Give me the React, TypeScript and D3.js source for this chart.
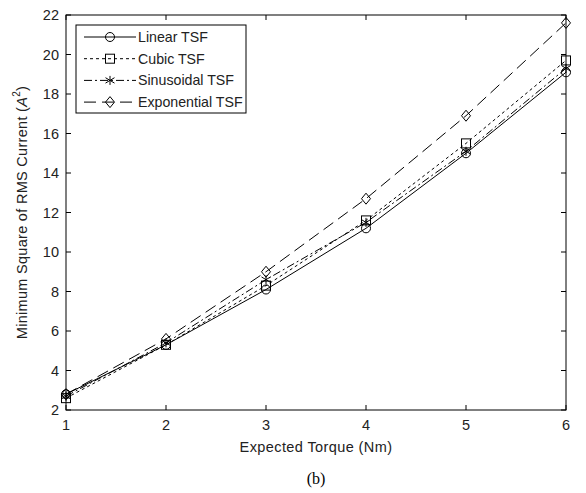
import React, { useEffect, useRef } from "react";
import * as d3 from "d3";

const torque = [1, 2, 3, 4, 5, 6];
const linearTSF = [2.8, 5.3, 8.1, 11.2, 15.0, 19.1];
const cubicTSF = [2.6, 5.3, 8.3, 11.6, 15.5, 19.7];
const sinusoidalTSF = [2.7, 5.4, 8.6, 11.5, 15.1, 19.3];
const exponentialTSF = [2.8, 5.6, 9.0, 12.7, 16.9, 21.6];
const seriesNames = ["Linear TSF", "Cubic TSF", "Sinusoidal TSF", "Exponential TSF"];
const yTicks = [2, 4, 6, 8, 10, 12, 14, 16, 18, 20, 22];
const xTicks = [1, 2, 3, 4, 5, 6];

export default function App() {
  const ref = useRef<SVGSVGElement>(null);
  useEffect(() => {
    const svg = d3.select(ref.current);
    svg.selectAll("*").remove();
    const L = 66, R = 566, T = 15, B = 410;
    const x = d3.scaleLinear().domain([1, 6]).range([L, R]);
    const y = d3.scaleLinear().domain([2, 22]).range([B, T]);
    const font = "Liberation Sans, Arial, sans-serif";
    const fs = 14.5;
    const g = svg.append("g");
    g.append("rect").attr("x", L).attr("y", T).attr("width", R - L).attr("height", B - T)
      .attr("fill", "white").attr("stroke", "#000").attr("stroke-width", 1);
    const tl = 5;
    yTicks.forEach((v) => {
      g.append("line").attr("x1", L).attr("x2", L + tl).attr("y1", y(v)).attr("y2", y(v)).attr("stroke", "#000");
      g.append("line").attr("x1", R).attr("x2", R - tl).attr("y1", y(v)).attr("y2", y(v)).attr("stroke", "#000");
      g.append("text").attr("x", L - 7).attr("y", y(v) + 5).attr("text-anchor", "end")
        .attr("font-family", font).attr("font-size", fs).attr("fill", "#222").text(String(v));
    });
    xTicks.forEach((v) => {
      g.append("line").attr("x1", x(v)).attr("x2", x(v)).attr("y1", B).attr("y2", B - tl).attr("stroke", "#000");
      g.append("line").attr("x1", x(v)).attr("x2", x(v)).attr("y1", T).attr("y2", T + tl).attr("stroke", "#000");
      g.append("text").attr("x", x(v)).attr("y", B + 20).attr("text-anchor", "middle")
        .attr("font-family", font).attr("font-size", fs).attr("fill", "#222").text(String(v));
    });
    g.append("text").attr("x", 316).attr("y", 452).attr("text-anchor", "middle")
      .attr("font-family", font).attr("font-size", fs).attr("letter-spacing", 0.4).attr("fill", "#222").text("Expected Torque (Nm)");
    g.append("text").attr("x", 316).attr("y", 484).attr("text-anchor", "middle")
      .attr("font-family", "Liberation Serif, Times New Roman, serif").attr("font-size", 16).attr("fill", "#000").text("(b)");
    const yl = g.append("text").attr("transform", `translate(27,${(T + B) / 2}) rotate(-90)`)
      .attr("text-anchor", "middle").attr("font-family", font).attr("font-size", fs).attr("letter-spacing", 0.3).attr("fill", "#222");
    yl.append("tspan").text("Minimum Square of RMS Current (");
    yl.append("tspan").attr("font-style", "italic").text("A");
    yl.append("tspan").attr("dy", -7).attr("font-size", 10).text("2");
    yl.append("tspan").attr("dy", 7).text(")");

    const data = [linearTSF, cubicTSF, sinusoidalTSF, exponentialTSF];
    const dashes = [null, "3,3", "8,3,2,3", "12,6"];
    const markers = ["circle", "square", "star", "diamond"];
    const drawMarker = (sel: any, type: string, cx: number, cy: number) => {
      const s = 4.5;
      if (type === "circle") sel.append("circle").attr("cx", cx).attr("cy", cy).attr("r", s).attr("fill", "none").attr("stroke", "#000");
      else if (type === "square") sel.append("rect").attr("x", cx - s).attr("y", cy - s).attr("width", 2 * s).attr("height", 2 * s).attr("fill", "none").attr("stroke", "#000");
      else if (type === "diamond") sel.append("path").attr("d", `M${cx},${cy - s - 1}L${cx + s},${cy}L${cx},${cy + s + 1}L${cx - s},${cy}Z`).attr("fill", "none").attr("stroke", "#000");
      else {
        const path = `M${cx},${cy - s}L${cx},${cy + s}M${cx - s},${cy - s * 0.6}L${cx + s},${cy + s * 0.6}M${cx - s},${cy + s * 0.6}L${cx + s},${cy - s * 0.6}`;
        sel.append("path").attr("d", path).attr("fill", "none").attr("stroke", "#000");
      }
    };
    const line = d3.line<number>().x((_, i) => x(torque[i])).y((d) => y(d));
    data.forEach((arr, k) => {
      const p = g.append("path").attr("d", line(arr)).attr("fill", "none").attr("stroke", "#000").attr("stroke-width", 1);
      if (dashes[k]) p.attr("stroke-dasharray", dashes[k]);
      arr.forEach((v, i) => drawMarker(g, markers[k], x(torque[i]), y(v)));
    });

    // legend
    const lx = 76, ly = 25, lw = 170, lh = 88;
    g.append("rect").attr("x", lx).attr("y", ly).attr("width", lw).attr("height", lh)
      .attr("fill", "white").attr("stroke", "#000");
    seriesNames.forEach((name, k) => {
      const ry = ly + 12 + k * 21.7;
      const p = g.append("line").attr("x1", lx + 8).attr("x2", lx + 60).attr("y1", ry).attr("y2", ry).attr("stroke", "#000");
      if (dashes[k]) p.attr("stroke-dasharray", dashes[k]);
      drawMarker(g, markers[k], lx + 34, ry);
      g.append("text").attr("x", lx + 62).attr("y", ry + 5).attr("font-family", font).attr("font-size", 14.2)
        .attr("fill", "#222").text(name);
    });
  }, []);
  return (
    <svg ref={ref} width={586} height={493} style={{ position: "absolute", left: 0, top: 0, background: "white" }} />
  );
}
